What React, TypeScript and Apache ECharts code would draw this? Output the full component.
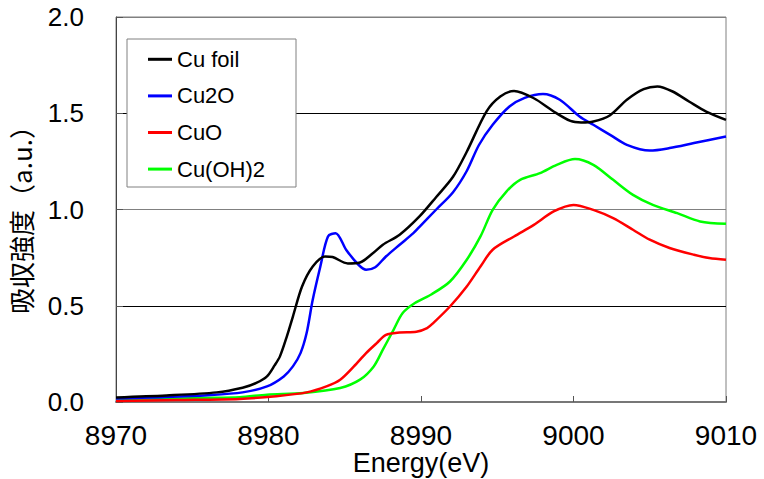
import React, { useEffect, useRef } from "react";
import * as echarts from "echarts";

const seriesNames = ["Cu foil", "Cu2O", "CuO", "Cu(OH)2"];
const seriesColors = ["#000000", "#0000ff", "#ff0000", "#00ff00"];
const xTicks = [8970, 8980, 8990, 9000, 9010];
const yTicks = [0, 0.5, 1.0, 1.5, 2.0];

const energyCuFoil = [8970, 8973.3, 8976.6, 8978.3, 8979.2, 8979.9, 8980.4, 8980.75, 8981.2, 8981.6, 8982.2, 8982.9, 8983.7, 8984.2, 8985.2, 8986.0, 8986.8, 8987.5, 8988.6, 8989.9, 8991.0, 8992.1, 8993.0, 8994.3, 8995.2, 8996.1, 8997.4, 8998.7, 8999.8, 9000.5, 9001.3, 9002.4, 9003.5, 9004.6, 9005.5, 9006.5, 9007.6, 9008.7, 9010];
const valuesCuFoil = [0.024, 0.034, 0.05, 0.074, 0.099, 0.133, 0.19, 0.237, 0.34, 0.444, 0.6, 0.704, 0.756, 0.753, 0.72, 0.725, 0.77, 0.817, 0.869, 0.964, 1.065, 1.17, 1.3, 1.51, 1.587, 1.616, 1.578, 1.509, 1.46, 1.452, 1.457, 1.49, 1.57, 1.625, 1.639, 1.613, 1.56, 1.509, 1.466];

const energyCu2O = [8970, 8973, 8976, 8978.3, 8979.9, 8981.0, 8981.6, 8982.1, 8982.5, 8982.9, 8983.4, 8983.9, 8984.4, 8985.1, 8985.9, 8986.4, 8987.0, 8987.7, 8988.6, 8989.5, 8989.9, 8991.0, 8992.1, 8993.0, 8993.8, 8994.7, 8995.8, 8996.8, 8998.0, 8999.1, 9000.4, 9001.3, 9002.4, 9003.5, 9005.0, 9006.3, 9007.9, 9010];
const valuesCu2O = [0.018, 0.025, 0.035, 0.05, 0.081, 0.133, 0.185, 0.254, 0.358, 0.531, 0.704, 0.86, 0.877, 0.79, 0.713, 0.687, 0.7, 0.756, 0.817, 0.877, 0.91, 1.0, 1.09, 1.2, 1.335, 1.44, 1.535, 1.58, 1.6, 1.57, 1.483, 1.44, 1.388, 1.336, 1.306, 1.319, 1.345, 1.379];

const energyCuO = [8970, 8974, 8978.1, 8980.5, 8982.5, 8983.8, 8984.7, 8985.6, 8986.4, 8987.1, 8987.7, 8988.6, 8989.7, 8990.4, 8990.8, 8991.9, 8993.0, 8993.9, 8994.7, 8996.1, 8997.4, 8998.7, 9000.0, 9001.3, 9002.6, 9003.9, 9005.0, 9006.3, 9007.9, 9008.9, 9010];
const valuesCuO = [0.005, 0.01, 0.016, 0.03, 0.05, 0.081, 0.116, 0.185, 0.254, 0.306, 0.349, 0.361, 0.365, 0.384, 0.41, 0.496, 0.6, 0.704, 0.791, 0.86, 0.92, 0.99, 1.024, 0.998, 0.955, 0.895, 0.843, 0.8, 0.765, 0.748, 0.739];

const energyCuOH2 = [8970, 8975.5, 8978.1, 8979.9, 8982.3, 8984.7, 8986.0, 8986.9, 8987.5, 8988.2, 8988.8, 8989.6, 8990.7, 8991.9, 8993.0, 8993.9, 8994.7, 8995.6, 8996.5, 8997.8, 8998.9, 9000.1, 9001.3, 9002.6, 9003.9, 9005.2, 9006.8, 9008.3, 9010];
const valuesCuOH2 = [0.008, 0.021, 0.025, 0.038, 0.047, 0.073, 0.116, 0.185, 0.272, 0.375, 0.462, 0.514, 0.56, 0.626, 0.739, 0.86, 0.998, 1.093, 1.154, 1.189, 1.232, 1.262, 1.232, 1.154, 1.076, 1.024, 0.981, 0.938, 0.926];

const energies = [energyCuFoil, energyCu2O, energyCuO, energyCuOH2];
const values = [valuesCuFoil, valuesCu2O, valuesCuO, valuesCuOH2];

const FONT = "Liberation Sans, Arial, sans-serif";

export default function App() {
  const ref = useRef<HTMLDivElement>(null);
  useEffect(() => {
    if (!ref.current) return;
    const chart = echarts.init(ref.current, null, { renderer: "svg" });
    chart.setOption({
      animation: false,
      backgroundColor: "#ffffff",
      grid: {
        left: 116,
        top: 17,
        width: 610,
        height: 385,
        show: true,
        borderColor: "#808080",
        borderWidth: 1,
        backgroundColor: "transparent",
        outerBoundsMode: "none",
        containLabel: false,
      },
      legend: {
        orient: "vertical",
        left: 127,
        top: 39,
        data: seriesNames.map((n) => ({ name: n, icon: "rect" })),
        itemWidth: 24,
        itemHeight: 3,
        itemGap: 14.6,
        padding: [9.3, 31, 6.9, 21],
        backgroundColor: "#ffffff",
        borderColor: "#808080",
        borderWidth: 1,
        borderRadius: 0,
        textStyle: { fontFamily: FONT, fontSize: 22, color: "#000" },
      },
      xAxis: {
        type: "value",
        min: xTicks[0],
        max: xTicks[xTicks.length - 1],
        interval: 10,
        name: "Energy(eV)",
        nameLocation: "middle",
        nameGap: 47,
        nameMoveOverlap: false,
        nameTextStyle: { fontFamily: FONT, fontSize: 27, lineHeight: 28, color: "#000" },
        axisLine: { show: true, onZero: false, lineStyle: { color: "#777777", width: 2 } },
        axisTick: { show: true, inside: true, length: 6, lineStyle: { color: "#555555", width: 1 } },
        axisLabel: {
          fontFamily: FONT,
          fontSize: 28,
          lineHeight: 28,
          color: "#000",
          margin: 19,
          formatter: (v: number) => String(v),
        },
        splitLine: { show: false },
      },
      yAxis: {
        type: "value",
        min: yTicks[0],
        max: yTicks[yTicks.length - 1],
        interval: 0.5,
        name: "吸収強度（a.u.）",
        nameLocation: "middle",
        nameGap: 83,
        nameRotate: 90,
        nameMoveOverlap: false,
        nameTextStyle: {
          fontFamily: "Noto Sans CJK JP, sans-serif",
          fontSize: 26,
          color: "#000",
          padding: [0, 8, 0, 0],
        },
        axisLine: { show: true, lineStyle: { color: "#444444", width: 1 } },
        axisTick: { show: true, inside: true, length: 7, lineStyle: { color: "#555555" } },
        axisLabel: {
          fontFamily: FONT,
          fontSize: 26,
          color: "#000",
          margin: 32,
          formatter: (v: number) => v.toFixed(1),
        },
        splitLine: {
          show: true,
          lineStyle: { color: ["#808080", "#000000", "#808080", "#000000", "#808080"], width: 1 },
        },
      },
      series: seriesNames.map((name, i) => ({
        name,
        type: "line",
        data: energies[i].map((e, j) => [e, values[i][j]]),
        symbol: "none",
        smooth: 0.3,
        lineStyle: { color: seriesColors[i], width: 2.5 },
        itemStyle: { color: seriesColors[i] },
        z: 10 - i,
      })),
    });
    return () => chart.dispose();
  }, []);
  return (
    <div
      ref={ref}
      style={{ position: "absolute", left: 0, top: 0, width: 764, height: 479 }}
    />
  );
}
